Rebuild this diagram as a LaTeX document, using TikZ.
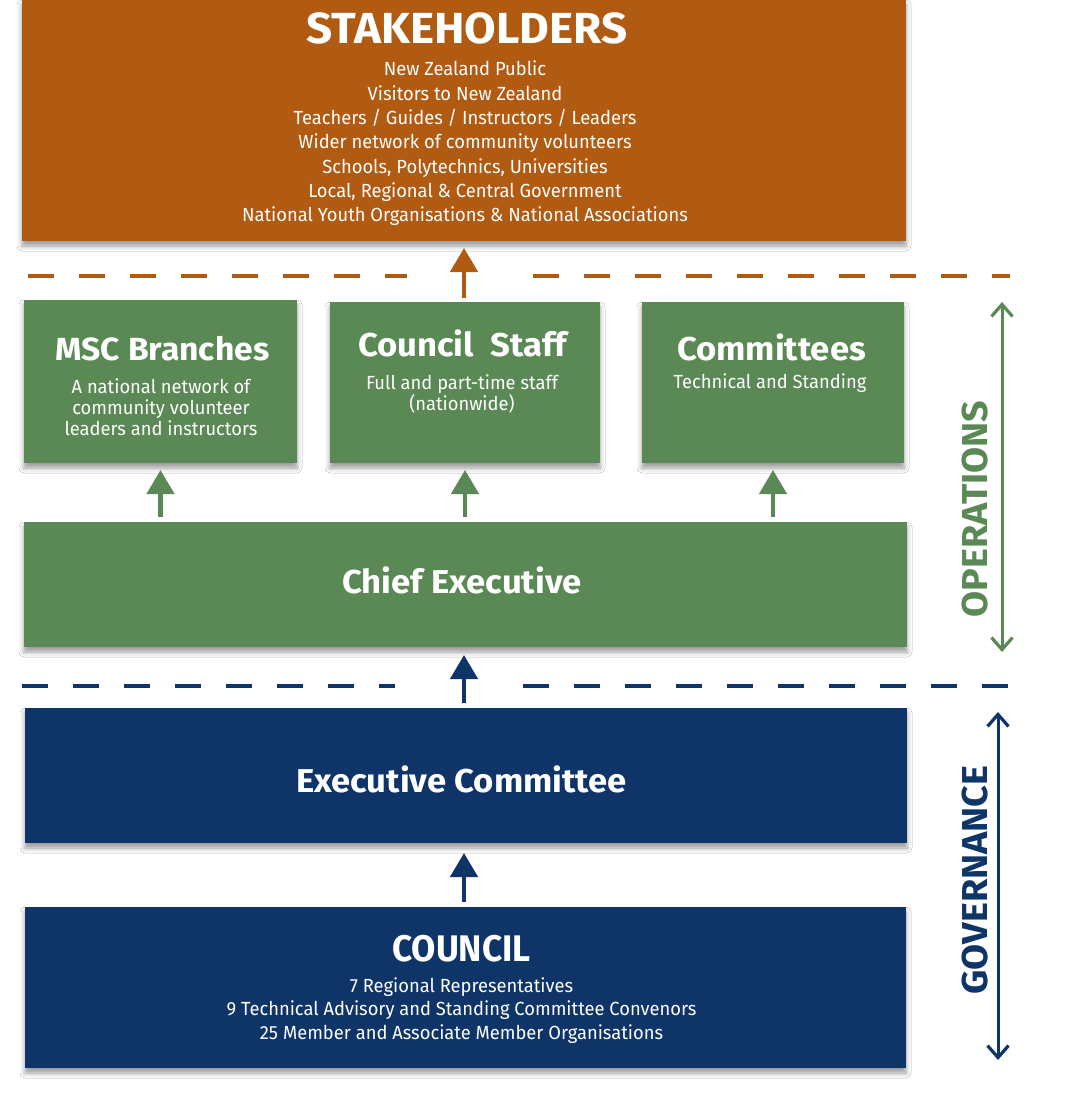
\documentclass[tikz,border=0pt]{standalone}
\usepackage{fontspec}
\setmainfont{Fira Sans}
\newfontfamily\bodyfont{Fira Sans}[FakeStretch=0.965]
\newfontfamily\headfont{Fira Sans Bold}[FakeStretch=1.05]
\newfontfamily\headnarrow{Fira Sans Bold}[FakeStretch=0.95]
\usetikzlibrary{arrows.meta,shadows.blur}
\definecolor{mscorange}{HTML}{B05A12}
\definecolor{mscgreen}{HTML}{5A8955}
\definecolor{mscblue}{HTML}{0E3468}
\begin{document}
\begin{tikzpicture}[x=1pt,y=-1pt,
  box/.style={draw=none, inner sep=0pt, outer sep=0pt,
    blur shadow={shadow xshift=0pt, shadow yshift=-5pt, shadow blur radius=5pt, shadow opacity=40}},
  headtxt/.style={text=white, anchor=base, inner sep=0pt, font=\headfont\fontsize{#1}{#1}\selectfont},
  narrowtxt/.style={text=white, anchor=base, inner sep=0pt, font=\headnarrow\fontsize{#1}{#1}\selectfont},
  bodytxt/.style={text=white, anchor=base, inner sep=0pt, font=\bodyfont\fontsize{19}{19}\selectfont},
  uparrow/.style={line width=4.5pt, -{Triangle[width=27pt,length=24pt]}},
  sidearrow/.style={line width=3pt, {Straight Barb[width=21pt,length=12pt,line width=3.2pt]}-{Straight Barb[width=21pt,length=12pt,line width=3.2pt]}},
  sidetxt/.style={rotate=90, inner sep=0pt, font=\headfont\fontsize{36}{36}\selectfont},
  divider/.style={line width=4pt, dash pattern=on 26pt off 25pt}
]
\useasboundingbox (0,0) rectangle (1071,1105);
\fill[white] (0,0) rectangle (1071,1105);

% boxes
\node[box, fill=mscorange, minimum width=884pt, minimum height=241pt] (stake) at (464,120.5) {};
\node[box, fill=mscgreen, minimum width=273pt, minimum height=163pt] (msc) at (160.5,381.5) {};
\node[box, fill=mscgreen, minimum width=270pt, minimum height=161pt] (staff) at (465,382.5) {};
\node[box, fill=mscgreen, minimum width=262pt, minimum height=161pt] (comm) at (773,382.5) {};
\node[box, fill=mscgreen, minimum width=883pt, minimum height=125pt] (chief) at (465.5,584.5) {};
\node[box, fill=mscblue, minimum width=882pt, minimum height=135pt] (exec) at (466,775.5) {};
\node[box, fill=mscblue, minimum width=881pt, minimum height=161pt] (council) at (465.5,987.5) {};

% stakeholders text
\node[headtxt=43.5] (stakeT) at (467,44) {STAKEHOLDERS};
\node[bodytxt] (s1) at (465,76) {New Zealand Public};
\node[bodytxt] (s2) at (465,100.3) {Visitors to New Zealand};
\node[bodytxt] (s3) at (465,124.6) {Teachers / Guides / Instructors / Leaders};
\node[bodytxt] (s4) at (465,148.9) {Wider network of community volunteers};
\node[bodytxt] (s5) at (465,173.2) {Schools, Polytechnics, Universities};
\node[bodytxt] (s6) at (465,197.5) {Local, Regional \& Central Government};
\node[bodytxt] (s7) at (465,221.8) {National Youth Organisations \& National Associations};

% MSC branches
\node[headtxt=32] (mscT) at (162.5,360) {MSC Branches};
\node[bodytxt] (m1) at (161,393) {A national network of};
\node[bodytxt] (m2) at (161,414) {community volunteer};
\node[bodytxt] (m3) at (161,435) {leaders and instructors};

% Council staff
\node[headtxt=33] (staffT) at (462.5,356) {Council\ \ Staff};
\node[bodytxt] (c1) at (462,389) {Full and part-time staff};
\node[bodytxt] (c2) at (462,410) {(nationwide)};

% Committees
\node[headtxt=33] (commT) at (771.5,360) {Committees};
\node[bodytxt] (k1) at (770,388) {Technical and Standing};

% Chief executive
\node[headtxt=33] (chiefT) at (462,593) {Chief Executive};

% Executive committee
\node[headtxt=33] (execT) at (461.5,792) {Executive Committee};

% Council
\node[narrowtxt=37] (councilT) at (461.5,961) {COUNCIL};
\node[bodytxt] (r1) at (461.5,992) {7 Regional Representatives};
\node[bodytxt] (r2) at (461.5,1015.5) {9 Technical Advisory and Standing Committee Convenors};
\node[bodytxt] (r3) at (461.5,1039) {25 Member and Associate Member Organisations};

% dividers
\coordinate (oL) at (28,276);
\coordinate (oG1) at (407,276);
\coordinate (oG2) at (533,276);
\coordinate (oR) at (1010,276);
\draw[divider, mscorange] (oL) -- (oG1);
\draw[divider, mscorange] (oG2) -- (oR);
\coordinate (bL) at (22,686);
\coordinate (bG1) at (395,686);
\coordinate (bG2) at (523,686);
\coordinate (bR) at (1010,686);
\draw[divider, mscblue] (bL) -- (bG1);
\draw[divider, mscblue] (bG2) -- (bR);

% vertical arrows
\draw[uparrow, mscorange, shorten <=4pt, shorten >=7pt] (464,302) coordinate (a1s) -- (464,241) coordinate (a1e);
\draw[uparrow, mscgreen, shorten <=5pt, shorten >=7pt] (msc.south |- chief.north) -- (msc.south);
\draw[uparrow, mscgreen, shorten <=5pt, shorten >=7pt] (staff.south |- chief.north) -- (staff.south);
\draw[uparrow, mscgreen, shorten <=5pt, shorten >=7pt] (comm.south |- chief.north) -- (comm.south);
\draw[uparrow, mscblue, shorten <=5pt, shorten >=8pt] (464,708) coordinate (b1s) -- (464,647) coordinate (b1e);
\draw[uparrow, mscblue, shorten <=5pt, shorten >=10pt] (464,907) coordinate (b2s) -- (464,843) coordinate (b2e);

% side arrows
\coordinate (opTop) at (1002,302);
\coordinate (opBot) at (1002,652);
\draw[sidearrow, mscgreen] (opTop) -- (opBot);
\node[sidetxt, text=mscgreen] (opT) at (975,509) {OPERATIONS};
\coordinate (gvTop) at (998,712);
\coordinate (gvBot) at (998,1060);
\draw[sidearrow, mscblue] (gvTop) -- (gvBot);
\node[sidetxt, text=mscblue] (gvT) at (975,880) {GOVERNANCE};
\end{tikzpicture}
\end{document}
